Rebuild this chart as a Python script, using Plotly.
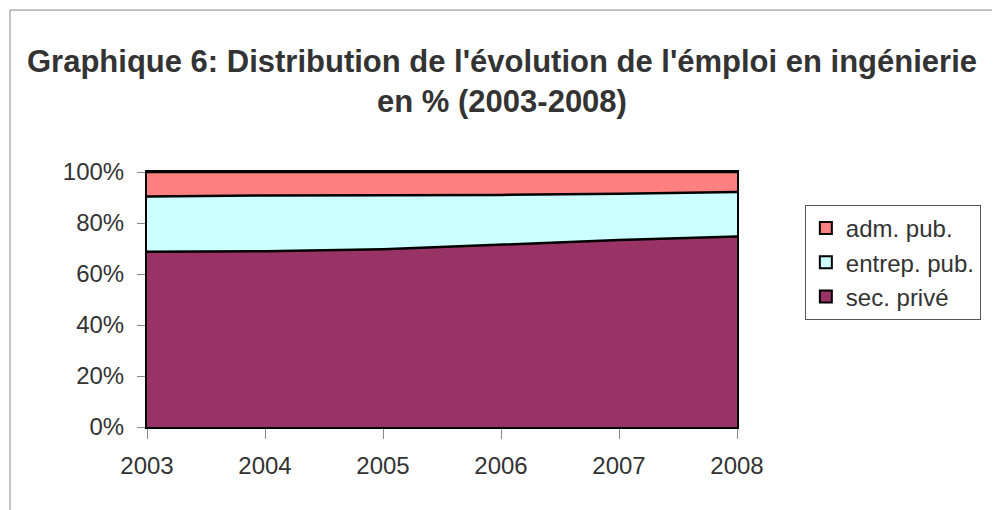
import plotly.graph_objects as go

years = [2003, 2004, 2005, 2006, 2007, 2008]
sec_prive = [68.7, 68.9, 69.7, 71.4, 73.3, 74.7]
entrep_pub = [21.7, 21.9, 21.2, 19.6, 18.2, 17.5]
adm_pub = [9.6, 9.2, 9.1, 9.0, 8.5, 7.8]
y_ticks = [0, 20, 40, 60, 80, 100]
y_labels = ["0%", "20%", "40%", "60%", "80%", "100%"]

series = [
    ("sec. privé", sec_prive, "#993366"),
    ("entrep. pub.", entrep_pub, "#CCFFFF"),
    ("adm. pub.", adm_pub, "#FF8080"),
]

fig = go.Figure()
for name, vals, col in series:
    fig.add_trace(go.Scatter(
        x=years, y=vals, name=name, stackgroup="one", mode="lines",
        line=dict(color="black", width=2.5), fillcolor=col, showlegend=False,
        hoverinfo="x+y+name"))

# legend entries (square swatches)
for name, vals, col in reversed(series):
    fig.add_trace(go.Bar(x=[None], y=[None], name=name, legendgroup=name,
                         marker=dict(color=col, line=dict(color="black", width=2))))

fig.update_layout(
    width=1000, height=510,
    margin=dict(l=139, r=271, t=164, b=91),
    paper_bgcolor="white", plot_bgcolor="white",
    font=dict(family="Liberation Sans, Arial, sans-serif", color="#333333", size=24),
    title=dict(text="<b>Graphique 6: Distribution de l'évolution de l'émploi en ingénierie<br>en % (2003-2008)</b>",
               x=0.494, xanchor="center", y=0.875, yanchor="middle",
               font=dict(size=31, color="#333333")),
    showlegend=True,
    legend=dict(x=1.115, y=0.871, xanchor="left", yanchor="top",
                bordercolor="#555555", borderwidth=1, bgcolor="white",
                font=dict(size=24, color="#333333"), itemsizing="constant",
                traceorder="normal", tracegroupgap=0),
    xaxis=dict(range=[2003, 2008], tickvals=years, ticktext=[str(y) for y in years],
               showgrid=False, zeroline=False, showline=True, linecolor="black",
               linewidth=2, mirror=True, ticks="outside", ticklen=10, tickcolor="#888888",
               ticklabelstandoff=6, tickfont=dict(size=24, color="#333333")),
    yaxis=dict(range=[0, 100], tickvals=y_ticks, ticktext=y_labels,
               showgrid=False, zeroline=False, showline=True, linecolor="black",
               linewidth=2, mirror=True, ticks="outside", ticklen=8, tickcolor="#888888",
               ticklabelstandoff=8, tickfont=dict(size=24, color="#333333")),
    shapes=[dict(type="rect", xref="paper", yref="paper", x0=-0.2322, y0=-0.6,
                 x1=1.6, y1=1.635, line=dict(color="#888888", width=1), layer="below")],
)

fig.write_html("out.html")
